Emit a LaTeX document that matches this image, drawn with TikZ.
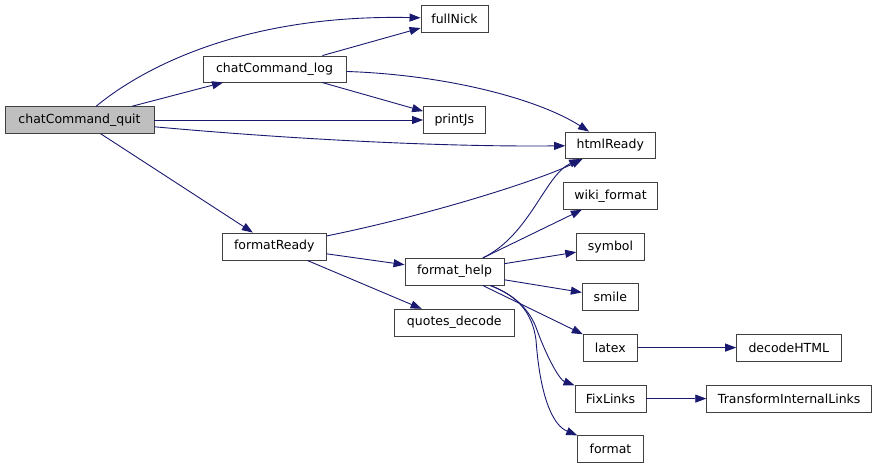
\documentclass[tikz,border=0pt]{standalone}
\usepackage{fontspec}
\setmainfont{DejaVu Sans}
\usetikzlibrary{arrows.meta}
\definecolor{edgeblue}{HTML}{191970}
\definecolor{boxline}{HTML}{404040}
\definecolor{rootfill}{HTML}{BFBFBF}
\begin{document}
\begin{tikzpicture}[x=1pt,y=-1pt,
  fn/.style={draw=boxline,line width=0.9pt,fill=white,inner sep=0pt,font=\fontsize{12.5}{15}\selectfont},
  root/.style={fn,fill=rootfill},
  call/.style={draw=edgeblue,line width=0.9pt,-{Triangle[length=11pt,width=8pt]}}]
\useasboundingbox (0,0) rectangle (877,468);
% nodes
\node[root,minimum width=149pt,minimum height=26.5pt] (quit) at (79.5,120) {chatCommand\_quit};
\node[fn,minimum width=143pt,minimum height=26pt] (log) at (274.5,69) {chatCommand\_log};
\node[fn,minimum width=67pt,minimum height=27pt] (fullNick) at (454.5,18.5) {fullNick};
\node[fn,minimum width=61.5pt,minimum height=26.5pt] (printJs) at (454.3,120) {printJs};
\node[fn,minimum width=89.3pt,minimum height=26.5pt] (htmlReady) at (610.3,145.3) {htmlReady};
\node[fn,minimum width=94.4pt,minimum height=27pt] (wiki) at (610.5,195.8) {wiki\_format};
\node[fn,minimum width=67.6pt,minimum height=26.7pt] (symbol) at (610.5,246.6) {symbol};
\node[fn,minimum width=103.3pt,minimum height=27pt] (formatReady) at (274.3,246.5) {formatReady};
\node[fn,minimum width=99pt,minimum height=26.7pt] (fhelp) at (454.5,271.7) {format\_help};
\node[fn,minimum width=56pt,minimum height=27.4pt] (smile) at (610.3,297) {smile};
\node[fn,minimum width=120pt,minimum height=26.7pt] (quotes) at (454.3,322.6) {quotes\_decode};
\node[fn,minimum width=54pt,minimum height=26.7pt] (latex) at (610.3,347.6) {latex};
\node[fn,minimum width=104.3pt,minimum height=26.7pt] (decode) at (788.8,347.6) {decodeHTML};
\node[fn,minimum width=71pt,minimum height=26.7pt] (fixlinks) at (610.5,398.6) {FixLinks};
\node[fn,minimum width=165pt,minimum height=26.7pt] (til) at (789.2,398.6) {TransformInternalLinks};
\node[fn,minimum width=65.6pt,minimum height=27.4pt] (format) at (610.5,449) {format};
% edges
\draw[call] (quit) .. controls (140,70) and (240,14) .. (fullNick);
\draw[call] (quit) -- (log);
\draw[call] (quit) -- (printJs);
\draw[call] (quit) .. controls (300,140) and (450,147) .. (htmlReady);
\draw[call] (quit) -- (formatReady);
\draw[call] (log) -- (fullNick);
\draw[call] (log) -- (printJs);
\draw[call] (log) .. controls (450,75) and (540,100) .. (htmlReady);
\draw[call] (formatReady) .. controls (430,215) and (540,180) .. (htmlReady);
\draw[call] (formatReady) -- (fhelp);
\draw[call] (formatReady) -- (quotes);
\draw[call] (fhelp) .. controls (530,235) and (545,175) .. (htmlReady);
\draw[call] (fhelp) -- (wiki);
\draw[call] (fhelp) -- (symbol);
\draw[call] (fhelp) -- (smile);
\draw[call] (fhelp) -- (latex);
\draw[call] (fhelp) .. controls (515,295) and (530,310) .. (537,330) .. controls (548,360) and (560,380) .. (fixlinks);
\draw[call] (fhelp) .. controls (515,295) and (532,310) .. (536,340) .. controls (540,395) and (552,425) .. (format);
\draw[call] (latex) -- (decode);
\draw[call] (fixlinks) -- (til);
\end{tikzpicture}
\end{document}
